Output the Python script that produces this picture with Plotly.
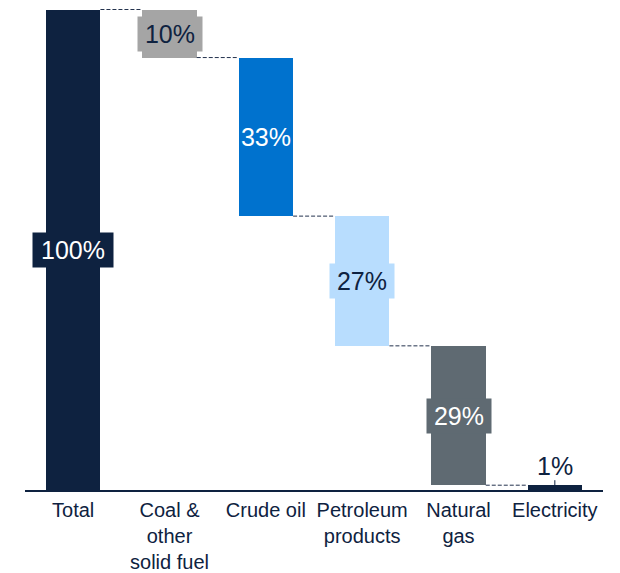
import plotly.graph_objects as go

# Share of energy by fuel type, shown as a waterfall from the total
categories = ["Total", "Coal &<br>other<br>solid fuel", "Crude oil",
              "Petroleum<br>products", "Natural<br>gas", "Electricity"]
values = [100, 10, 33, 27, 29, 1]
value_labels = ["100%", "10%", "33%", "27%", "29%", "1%"]

bar_colors = ["#0E2240", "#A5A5A5", "#0072CE", "#B8DDFE", "#5F6A72", "#0E2240"]
label_colors = ["#FFFFFF", "#0E2240", "#FFFFFF", "#0E2240", "#FFFFFF", "#0E2240"]
label_boxed = [True, True, False, True, True, False]

NAVY = "#0E2240"
FONT = "Liberation Sans, Arial, sans-serif"
BAR_W = 0.566

# Bases: the total starts at zero, each component steps down from the previous level
bases = [0]
level = values[0]
for v in values[1:]:
    level -= v
    bases.append(level)

x_idx = list(range(len(categories)))

fig = go.Figure()
fig.add_trace(go.Bar(
    x=x_idx, y=values, base=bases, width=BAR_W,
    marker=dict(color=bar_colors, line=dict(width=0)),
    hoverinfo="skip", showlegend=False,
))

# Dashed connectors between consecutive bars
tops = [b + v for b, v in zip(bases, values)]
for i in range(len(values) - 1):
    lvl = bases[i] if i > 0 else tops[i]
    fig.add_shape(type="line", xref="x", yref="y",
                  x0=i + BAR_W / 2, x1=i + 1 - BAR_W / 2, y0=lvl, y1=lvl,
                  line=dict(color="#23324D", width=1, dash="4px,2px"))

# Value labels
for i, (b, v) in enumerate(zip(bases, values)):
    if v >= 5:
        fig.add_annotation(
            x=i, y=b + v / 2, text=value_labels[i], showarrow=False,
            font=dict(family=FONT, size=25, color=label_colors[i]),
            bgcolor=bar_colors[i] if label_boxed[i] else "rgba(0,0,0,0)",
            width=len(value_labels[i]) * 16 + 14, height=32,
        )
    else:
        # small segment: label above the bar with a short leader tick
        fig.add_shape(type="line", xref="x", yref="y", ysizemode="pixel",
                      yanchor=b + v, x0=i, x1=i, y0=0, y1=5,
                      line=dict(color=NAVY, width=1))
        fig.add_annotation(
            x=i, y=b + v, text=value_labels[i], showarrow=False,
            yanchor="bottom", yshift=3,
            font=dict(family=FONT, size=25, color=label_colors[i]),
        )

fig.update_layout(
    width=620, height=573,
    margin=dict(l=25, r=17, t=0, b=83),
    paper_bgcolor="white", plot_bgcolor="white",
    font=dict(family=FONT, size=20, color=NAVY),
    bargap=0,
    xaxis=dict(
        tickmode="array", tickvals=x_idx, ticktext=categories,
        range=[-0.5, len(categories) - 0.5],
        showline=True, linecolor=NAVY, linewidth=1.5,
        showgrid=False, zeroline=False, ticks="",
        automargin=False, ticklabelstandoff=1,
        tickfont=dict(family=FONT, size=20, color=NAVY),
    ),
    yaxis=dict(range=[0, 101.98], visible=False, showgrid=False,
               zeroline=False, automargin=False),
)

fig.write_html("out.html")
